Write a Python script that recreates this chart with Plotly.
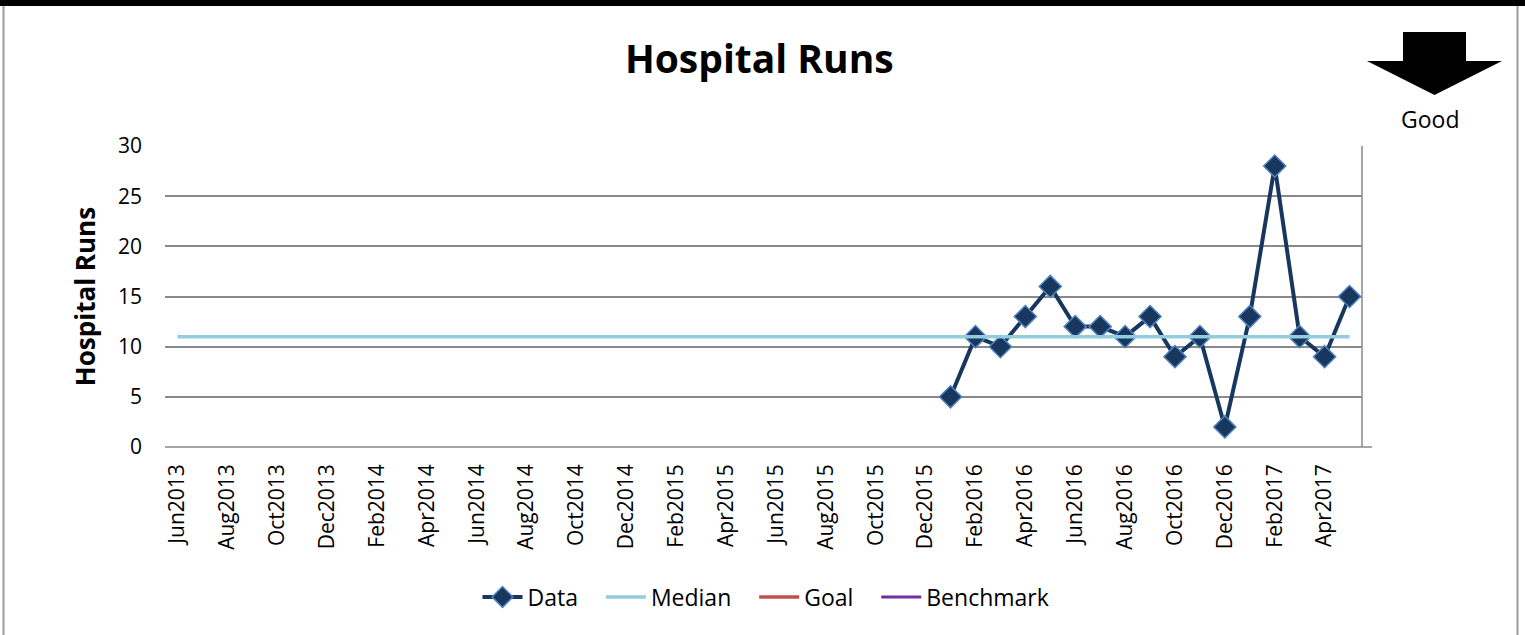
import plotly.graph_objects as go

categories = ["Jun2013","Jul2013","Aug2013","Sep2013","Oct2013","Nov2013","Dec2013",
              "Jan2014","Feb2014","Mar2014","Apr2014","May2014","Jun2014","Jul2014","Aug2014","Sep2014","Oct2014","Nov2014","Dec2014",
              "Jan2015","Feb2015","Mar2015","Apr2015","May2015","Jun2015","Jul2015","Aug2015","Sep2015","Oct2015","Nov2015","Dec2015",
              "Jan2016","Feb2016","Mar2016","Apr2016","May2016","Jun2016","Jul2016","Aug2016","Sep2016","Oct2016","Nov2016","Dec2016",
              "Jan2017","Feb2017","Mar2017","Apr2017","May2017"]
tick_labels = categories[::2]

data_months = ["Jan2016","Feb2016","Mar2016","Apr2016","May2016","Jun2016","Jul2016","Aug2016","Sep2016",
               "Oct2016","Nov2016","Dec2016","Jan2017","Feb2017","Mar2017","Apr2017","May2017"]
data_values = [5, 11, 10, 13, 16, 12, 12, 11, 13, 9, 11, 2, 13, 28, 11, 9, 15]
median_values = [11] * len(categories)
goal_values = [None] * len(categories)
benchmark_values = [None] * len(categories)

W, H = 1525, 635
L, R, T, B = 165, 1362, 146, 447

def px(x):
    return (x - L) / (R - L)

def py(y):
    return (B - y) / (B - T)

FONT = "Open Sans, Calibri, sans-serif"
PAD = "\u00a0\u00a0\u00a0"

fig = go.Figure()
fig.add_trace(go.Scatter(x=data_months, y=data_values, name="Data" + PAD, mode="lines+markers",
                         line=dict(color="#17375E", width=4),
                         marker=dict(symbol="diamond", size=17, color="#17375E",
                                     line=dict(color="#4F81BD", width=1.5))))
fig.add_trace(go.Scatter(x=categories, y=median_values, name="Median" + PAD, mode="lines",
                         line=dict(color="#93CDDD", width=3.5)))
fig.add_trace(go.Scatter(x=categories, y=goal_values, name="Goal" + PAD, mode="lines",
                         line=dict(color="#C0504D", width=3.5)))
fig.add_trace(go.Scatter(x=categories, y=benchmark_values, name="Benchmark", mode="lines",
                         line=dict(color="#7030A0", width=3)))

shapes = [
    # outer frame
    dict(type="rect", xref="paper", yref="paper", x0=px(0), x1=px(W), y0=py(0), y1=py(6),
         fillcolor="black", line=dict(width=0), layer="above"),
    dict(type="line", xref="paper", yref="paper", x0=px(3.5), x1=px(3.5), y0=py(6), y1=py(H),
         line=dict(color="#9A9A9A", width=2)),
    dict(type="line", xref="paper", yref="paper", x0=px(1517.5), x1=px(1517.5), y0=py(6), y1=py(H),
         line=dict(color="#9A9A9A", width=2)),
    # right border of plot area
    dict(type="line", xref="paper", yref="paper", x0=1, x1=1, y0=0, y1=1,
         line=dict(color="#898989", width=1.5)),
    # x axis extension
    dict(type="line", xref="paper", yref="paper", x0=0, x1=px(1372), y0=0, y1=0,
         line=dict(color="#898989", width=1.5)),
    # arrow
    dict(type="path", xref="paper", yref="paper",
         path=("M {a},{b} L {c},{b} L {c},{d} L {e},{d} L {f},{g} L {h},{d} L {i},{d} Z").format(
             a=px(1403), b=py(32), c=px(1466), d=py(61), e=px(1502), f=px(1434.5), g=py(95),
             h=px(1367), i=px(1403)),
         fillcolor="black", line=dict(color="black", width=0)),
]

fig.update_layout(
    width=W, height=H,
    margin=dict(l=L, r=W - R, t=T, b=H - B),
    paper_bgcolor="white", plot_bgcolor="white",
    font=dict(family=FONT, size=17, color="black"),
    title=dict(text="<b>Hospital Runs</b>", x=px(761), y=1 - 59 / H, xanchor="center", yanchor="middle",
               font=dict(family=FONT, size=39, color="black")),
    showlegend=True,
    legend=dict(orientation="h", x=px(766), y=py(597), xanchor="center", yanchor="middle",
                font=dict(family=FONT, size=23), itemwidth=40, tracegroupgap=0,
                bgcolor="rgba(0,0,0,0)"),
    shapes=shapes,
    annotations=[dict(text="Good", xref="paper", yref="paper", x=px(1430), y=py(119),
                      xanchor="center", yanchor="middle", showarrow=False,
                      font=dict(family=FONT, size=23, color="black"))],
)

fig.update_xaxes(type="category", categoryorder="array", categoryarray=categories,
                 range=[-0.5, len(categories) - 0.5],
                 tickmode="array", tickvals=tick_labels, ticktext=tick_labels,
                 tickangle=-90, showgrid=False, showline=False, zeroline=False,
                 ticks="", ticklabelstandoff=12, tickfont=dict(family=FONT, size=21))
fig.update_yaxes(range=[0, 30], tickvals=[0, 5, 10, 15, 20, 25, 30],
                 showgrid=True, gridcolor="#898989", gridwidth=1.5,
                 zeroline=False, showline=False, ticks="", ticklabelstandoff=22,
                 tickfont=dict(family=FONT, size=21),
                 title=dict(text="<b>Hospital Runs</b>", font=dict(family=FONT, size=26), standoff=14))

fig.write_html("out.html", config={"displayModeBar": False},
               post_script="document.body.style.margin='0';document.body.style.padding='0';")
